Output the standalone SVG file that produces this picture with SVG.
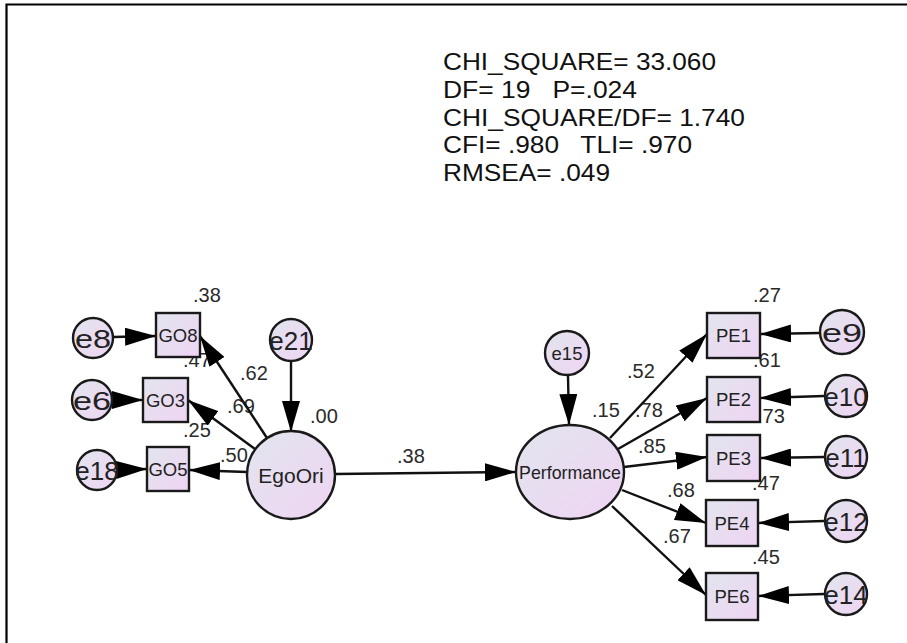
<svg xmlns="http://www.w3.org/2000/svg" width="907" height="643" viewBox="0 0 907 643">
<style>
.nd{fill:url(#g);stroke:#1a1a1a;stroke-width:2.4}
.nl{font-family:"Liberation Sans",Arial,sans-serif;fill:#222;text-anchor:middle}
.vl{font-family:"Liberation Sans",Arial,sans-serif;font-size:20px;fill:#2a2a2a}
.st{font-family:"Liberation Sans",Arial,sans-serif;font-size:24px;fill:#111;white-space:pre}
.cn{stroke:#111;stroke-width:2.4;fill:none;marker-end:url(#ah)}
</style>
<defs>
<linearGradient id="g" x1="0" y1="0" x2="1" y2="1">
<stop offset="0" stop-color="#e2e5ee"/>
<stop offset="1" stop-color="#efd4f3"/>
</linearGradient>
<marker id="ah" markerUnits="userSpaceOnUse" markerWidth="31" markerHeight="18" refX="31" refY="9" orient="auto" viewBox="0 0 31 18">
<path d="M0,0 L31,9 L0,18 z" fill="#000"/>
</marker>
</defs>
<rect x="0" y="0" width="907" height="643" fill="#fff"/>
<path d="M6.5,643 V4.5 H907" fill="none" stroke="#000" stroke-width="2.2"/>
<g id="stats">
<text class="st" x="443" y="70" textLength="273" lengthAdjust="spacingAndGlyphs">CHI_SQUARE= 33.060</text>
<text class="st" x="443" y="98" textLength="194" lengthAdjust="spacingAndGlyphs">DF= 19   P=.024</text>
<text class="st" x="443" y="126" textLength="302" lengthAdjust="spacingAndGlyphs">CHI_SQUARE/DF= 1.740</text>
<text class="st" x="443" y="153" textLength="249" lengthAdjust="spacingAndGlyphs">CFI= .980   TLI= .970</text>
<text class="st" x="443" y="181" textLength="167" lengthAdjust="spacingAndGlyphs">RMSEA= .049</text>
</g>
<g id="values">
<text class="vl" x="193" y="302">.38</text>
<text class="vl" x="183" y="367">.47</text>
<text class="vl" x="240" y="380">.62</text>
<text class="vl" x="227" y="413">.69</text>
<text class="vl" x="183" y="437">.25</text>
<text class="vl" x="220" y="462">.50</text>
<text class="vl" x="310" y="423">.00</text>
<text class="vl" x="397" y="463">.38</text>
<text class="vl" x="753" y="302">.27</text>
<text class="vl" x="627" y="378">.52</text>
<text class="vl" x="592" y="417">.15</text>
<text class="vl" x="635" y="417">.78</text>
<text class="vl" x="753" y="367">.61</text>
<text class="vl" x="757" y="423">.73</text>
<text class="vl" x="638" y="453">.85</text>
<text class="vl" x="752" y="490">.47</text>
<text class="vl" x="667" y="497">.68</text>
<text class="vl" x="663" y="543">.67</text>
<text class="vl" x="752" y="564">.45</text>
</g>
<g id="connectors">
<path class="cn" d="M113,337 L156,336"/>
<path class="cn" d="M112,400 L143,400"/>
<path class="cn" d="M117,470 L147,469"/>
<path class="cn" d="M267,438 L200,336"/>
<path class="cn" d="M255,449 L188,400"/>
<path class="cn" d="M247,472 L189,470"/>
<path class="cn" d="M291,361 L291,432"/>
<path class="cn" d="M335,474 L516,472"/>
<path class="cn" d="M568,376 L569,425"/>
<path class="cn" d="M610,438 L707,334"/>
<path class="cn" d="M618,449 L707,398"/>
<path class="cn" d="M624,467 L707,457"/>
<path class="cn" d="M622,490 L706,523"/>
<path class="cn" d="M612,506 L706,595"/>
<path class="cn" d="M820,333 L760,334"/>
<path class="cn" d="M824,396 L760,398"/>
<path class="cn" d="M824,457 L760,458"/>
<path class="cn" d="M824,521 L758,523"/>
<path class="cn" d="M824,594 L758,596"/>
</g>
<g id="GO8"><rect class="nd" x="156" y="313" width="44" height="44"/><text class="nl" x="178" y="341.5" font-size="18.5">GO8</text></g>
<g id="GO3"><rect class="nd" x="143" y="378" width="45" height="44"/><text class="nl" x="165.5" y="406.5" font-size="18.5">GO3</text></g>
<g id="GO5"><rect class="nd" x="147" y="447" width="42" height="44"/><text class="nl" x="168" y="475.5" font-size="18.5">GO5</text></g>
<g id="e8"><circle class="nd" cx="93" cy="338" r="20"/><text class="nl" x="93" y="347.5" font-size="26" textLength="36" lengthAdjust="spacingAndGlyphs">e8</text></g>
<g id="e6"><circle class="nd" cx="92" cy="400" r="20"/><text class="nl" x="92" y="409.5" font-size="26" textLength="38" lengthAdjust="spacingAndGlyphs">e6</text></g>
<g id="e18"><circle class="nd" cx="97" cy="470" r="20"/><text class="nl" x="97" y="479.5" font-size="26">e18</text></g>
<g id="e21"><circle class="nd" cx="291" cy="340" r="21"/><text class="nl" x="291" y="349.5" font-size="26">e21</text></g>
<g id="EgoOri"><circle class="nd" cx="291" cy="475" r="44"/><text class="nl" x="291" y="482.5" font-size="21">EgoOri</text></g>
<g id="Performance"><ellipse class="nd" cx="570" cy="472" rx="54" ry="47"/><text class="nl" x="570" y="478.5" font-size="17.8">Performance</text></g>
<g id="e15"><circle class="nd" cx="567" cy="353" r="22"/><text class="nl" x="567" y="359.5" font-size="18.5">e15</text></g>
<g id="PE1"><rect class="nd" x="707" y="313" width="53" height="45"/><text class="nl" x="733.5" y="342" font-size="18.5">PE1</text></g>
<g id="PE2"><rect class="nd" x="707" y="377" width="53" height="45"/><text class="nl" x="733.5" y="406" font-size="18.5">PE2</text></g>
<g id="PE3"><rect class="nd" x="707" y="435" width="53" height="46"/><text class="nl" x="733.5" y="464.5" font-size="18.5">PE3</text></g>
<g id="PE4"><rect class="nd" x="706" y="500" width="52" height="46"/><text class="nl" x="732" y="529.5" font-size="18.5">PE4</text></g>
<g id="PE6"><rect class="nd" x="706" y="573" width="52" height="47"/><text class="nl" x="732" y="603" font-size="18.5">PE6</text></g>
<g id="e9"><circle class="nd" cx="842" cy="332" r="22"/><text class="nl" x="842" y="341.5" font-size="26" textLength="40" lengthAdjust="spacingAndGlyphs">e9</text></g>
<g id="e10"><circle class="nd" cx="846" cy="396" r="21"/><text class="nl" x="846" y="405.5" font-size="26">e10</text></g>
<g id="e11"><circle class="nd" cx="846" cy="457" r="21"/><text class="nl" x="846" y="466.5" font-size="26">e11</text></g>
<g id="e12"><circle class="nd" cx="846" cy="521" r="21"/><text class="nl" x="846" y="530.5" font-size="26">e12</text></g>
<g id="e14"><circle class="nd" cx="846" cy="594" r="21"/><text class="nl" x="846" y="603.5" font-size="26">e14</text></g>
</svg>
